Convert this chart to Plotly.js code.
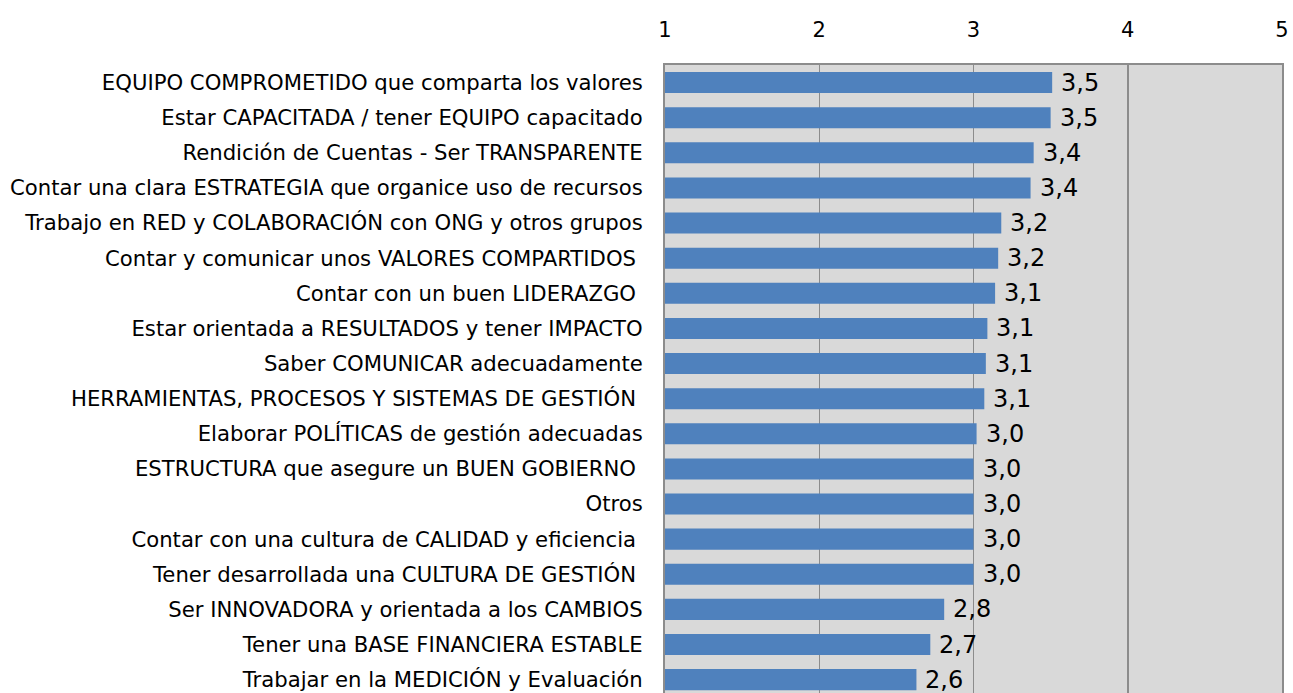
<!DOCTYPE html>
<html>
<head>
<meta charset="utf-8">
<script src="https://cdn.plot.ly/plotly-3.0.1.min.js"></script>
<style>html,body{margin:0;padding:0;background:#fff;}#chart{width:1293px;height:693px;}</style>
</head>
<body>
<div id="chart"></div>
<script>
var categories = [
  "EQUIPO COMPROMETIDO que comparta los valores",
  "Estar CAPACITADA / tener EQUIPO capacitado",
  "Rendición de Cuentas - Ser TRANSPARENTE",
  "Contar una clara ESTRATEGIA que organice uso de recursos",
  "Trabajo en RED y COLABORACIÓN con ONG y otros grupos",
  "Contar y comunicar unos VALORES COMPARTIDOS\u00a0",
  "Contar con un buen LIDERAZGO\u00a0",
  "Estar orientada a RESULTADOS y tener IMPACTO",
  "Saber COMUNICAR adecuadamente",
  "HERRAMIENTAS, PROCESOS Y SISTEMAS DE GESTIÓN\u00a0",
  "Elaborar POLÍTICAS de gestión adecuadas",
  "ESTRUCTURA que asegure un BUEN GOBIERNO\u00a0",
  "Otros",
  "Contar con una cultura de CALIDAD y eficiencia\u00a0",
  "Tener desarrollada una CULTURA DE GESTIÓN\u00a0",
  "Ser INNOVADORA y orientada a los CAMBIOS",
  "Tener una BASE FINANCIERA ESTABLE",
  "Trabajar en la MEDICIÓN y Evaluación"
];
var values = [3.51, 3.50, 3.39, 3.37, 3.18, 3.16, 3.14, 3.09, 3.08, 3.07, 3.02, 3.00, 3.00, 3.00, 3.00, 2.81, 2.72, 2.63];
var tickVals = [1, 2, 3, 4, 5];
var tickText = ["1", "2", "3", "4", "5"];

var FONT = "DejaVu Sans, sans-serif";

var trace = {
  type: "bar",
  orientation: "h",
  y: categories,
  x: values.map(function(v){ return v - 1; }),
  base: 1,
  width: 0.6,
  marker: {color: "#4f81bd", line: {width: 0}},
  hoverinfo: "skip"
};

var annotations = values.map(function(v, i){
  return {
    x: v, y: categories[i], xref: "x", yref: "y",
    text: v.toFixed(1).replace(".", ","),
    showarrow: false, xanchor: "left", yanchor: "middle",
    xshift: 8, yshift: 0,
    height: 22, borderpad: 0, valign: "middle",
    font: {family: FONT, size: 24, color: "#000"}
  };
});

var layout = {
  width: 1293, height: 693,
  margin: {l: 665, r: 11, t: 65, b: 0, pad: 0},
  paper_bgcolor: "#ffffff",
  plot_bgcolor: "#d9d9d9",
  showlegend: false,
  bargap: 0.4,
  xaxis: {
    side: "top",
    range: [1, 5],
    tickvals: tickVals,
    ticktext: tickText,
    showgrid: true,
    gridcolor: "#8c8c8c",
    gridwidth: 1.5,
    showline: true,
    linecolor: "#8c8c8c",
    linewidth: 2,
    mirror: false,
    zeroline: false,
    ticks: "",
    ticklabelstandoff: 18,
    tickfont: {family: FONT, size: 21, color: "#000"},
    fixedrange: true
  },
  yaxis: {
    type: "category",
    range: [17.38, -0.5],
    showgrid: false,
    showline: true,
    linecolor: "#8c8c8c",
    linewidth: 2,
    mirror: true,
    zeroline: false,
    ticks: "",
    ticklabelstandoff: 16,
    tickfont: {family: FONT, size: 21.2, color: "#000"},
    automargin: false,
    fixedrange: true
  },
  annotations: annotations
};

Plotly.newPlot("chart", [trace], layout, {displayModeBar: false, staticPlot: true});
</script>
</body>
</html>
